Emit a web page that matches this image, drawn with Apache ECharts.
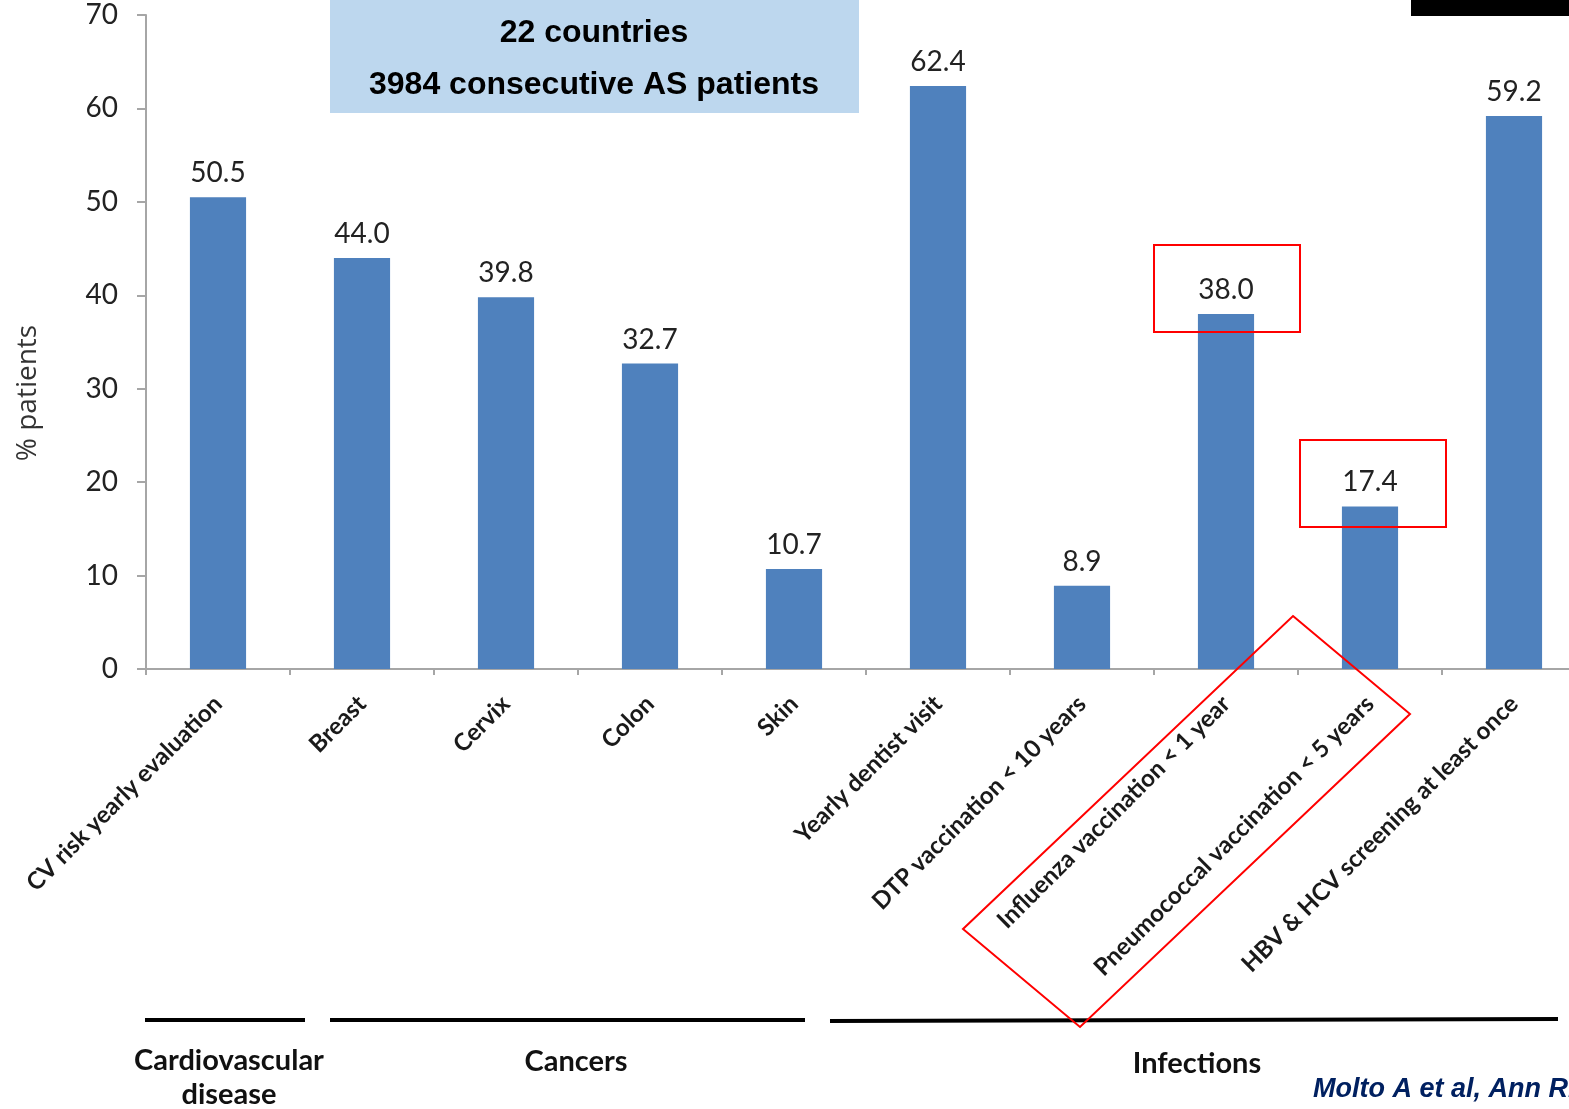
<!DOCTYPE html>
<html>
<head>
<meta charset="utf-8">
<script src="https://cdn.jsdelivr.net/npm/echarts@6/dist/echarts.min.js"></script>
<style>
  html, body { margin: 0; padding: 0; background: #fff; overflow: hidden; }
  /* the plot area continues past the right edge of the window */
  #chart { width: 1600px; height: 1109px; }
</style>
</head>
<body>
<div id="chart"></div>
<script>
// Preventive care items screened in AS patients
const categories = [
  'CV risk yearly evaluation',
  'Breast',
  'Cervix',
  'Colon',
  'Skin',
  'Yearly dentist visit',
  'DTP vaccination < 10 years',
  'Influenza vaccination < 1 year',
  'Pneumococcal vaccination < 5 years',
  'HBV & HCV screening at least once'
];
const percentPatients = [50.5, 44.0, 39.8, 32.7, 10.7, 62.4, 8.9, 38.0, 17.4, 59.2];
const yTicks = { min: 0, max: 70, interval: 10 };

// Domain groups shown under the category labels
const groupNames = ['Cardiovascular\ndisease', 'Cancers', 'Infections'];
const headerLines = ['22 countries', '3984 consecutive AS patients'];
const citation = 'Molto A et al, Ann Rheum Dis 2016';
const yAxisTitle = '% patients';

const chart = echarts.init(document.getElementById('chart'));

const labelFont = 'Lato, "Open Sans", sans-serif';
const arialFont = '"Liberation Sans", Arial, sans-serif';

chart.setOption({
  animation: false,
  backgroundColor: '#ffffff',
  grid: { left: 146, top: 15, width: 1440, height: 654, containLabel: false },
  xAxis: {
    type: 'category',
    data: categories,
    axisLine: { show: true, lineStyle: { color: '#a6a6a6', width: 2 } },
    axisTick: { show: true, length: 6, lineStyle: { color: '#a6a6a6', width: 2 } },
    axisLabel: {
      interval: 0,
      rotate: 45,
      margin: 31,
      fontSize: 24,
      fontWeight: 'bold',
      fontFamily: labelFont,
      color: '#1a1a1a'
    }
  },
  yAxis: {
    type: 'value',
    min: yTicks.min,
    max: yTicks.max,
    interval: yTicks.interval,
    axisLine: { show: true, lineStyle: { color: '#a6a6a6', width: 2 } },
    axisTick: { show: true, inside: false, length: 9, lineStyle: { color: '#a6a6a6', width: 2 } },
    splitLine: { show: false },
    axisLabel: { margin: 28, fontSize: 28, fontFamily: labelFont, color: '#222' }
  },
  series: [{
    type: 'bar',
    data: percentPatients,
    barWidth: '39%',
    itemStyle: { color: '#4f81bd' },
    label: {
      show: true,
      position: 'top',
      distance: 10,
      fontSize: 28,
      fontFamily: labelFont,
      color: '#222',
      formatter: p => p.value.toFixed(1)
    }
  }],
  graphic: [
    // y-axis title
    { type: 'text', x: 28, y: 393, rotation: Math.PI / 2, style: { text: yAxisTitle, align: 'center', verticalAlign: 'middle', font: '28px "Open Sans", sans-serif', fill: '#333' } },
    // header box
    { type: 'rect', shape: { x: 330, y: 0, width: 529, height: 113 }, style: { fill: '#bdd7ee' } },
    { type: 'text', x: 594, y: 33, style: { text: headerLines[0], align: 'center', verticalAlign: 'middle', font: 'bold 32px ' + arialFont, fill: '#000' } },
    { type: 'text', x: 594, y: 85, style: { text: headerLines[1], align: 'center', verticalAlign: 'middle', font: 'bold 32px ' + arialFont, fill: '#000' } },
    // black bar top-right
    { type: 'rect', shape: { x: 1411, y: 0, width: 189, height: 16 }, style: { fill: '#000' } },
    // group underlines
    { type: 'line', shape: { x1: 145, y1: 1020, x2: 305, y2: 1020 }, style: { stroke: '#000', lineWidth: 4 } },
    { type: 'line', shape: { x1: 330, y1: 1020, x2: 805, y2: 1020 }, style: { stroke: '#000', lineWidth: 4 } },
    { type: 'line', shape: { x1: 830, y1: 1021, x2: 1558, y2: 1019 }, style: { stroke: '#000', lineWidth: 4 } },
    // group names
    { type: 'text', x: 229, y: 1078, style: { text: groupNames[0], align: 'center', verticalAlign: 'middle', lineHeight: 34, font: 'bold 29px ' + labelFont, fill: '#111' } },
    { type: 'text', x: 576, y: 1062, style: { text: groupNames[1], align: 'center', verticalAlign: 'middle', font: 'bold 29px ' + labelFont, fill: '#111' } },
    { type: 'text', x: 1197, y: 1064, style: { text: groupNames[2], align: 'center', verticalAlign: 'middle', font: 'bold 29px ' + labelFont, fill: '#111' } },
    // citation
    { type: 'text', x: 1313, y: 1090, style: { text: citation, align: 'left', verticalAlign: 'middle', font: 'italic bold 27px ' + arialFont, fill: '#002060' } },
    // highlight boxes
    { type: 'rect', shape: { x: 1154, y: 245, width: 146, height: 87 }, style: { fill: 'none', stroke: '#ff0000', lineWidth: 2 }, z: 100 },
    { type: 'rect', shape: { x: 1300, y: 440, width: 146, height: 87 }, style: { fill: 'none', stroke: '#ff0000', lineWidth: 2 }, z: 100 },
    { type: 'polygon', shape: { points: [[1293, 616], [1410, 714], [1080, 1027], [963, 929]] }, style: { fill: 'none', stroke: '#ff0000', lineWidth: 2 }, z: 100 }
  ]
});
</script>
</body>
</html>
